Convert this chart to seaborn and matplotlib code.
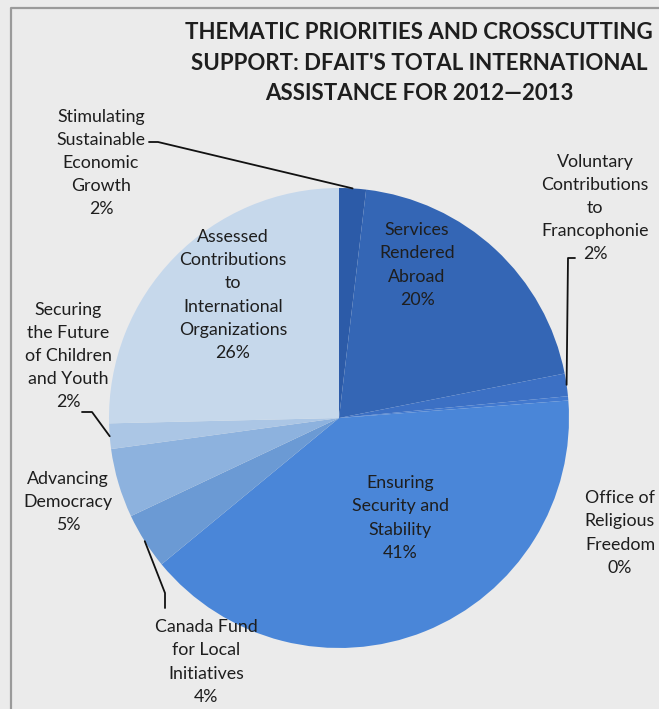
import numpy as np
import matplotlib
matplotlib.use("Agg")
import matplotlib.pyplot as plt
import seaborn as sns

# ---- data ----
categories = [
    "Stimulating\nSustainable\nEconomic\nGrowth",
    "Services\nRendered\nAbroad",
    "Voluntary\nContributions\nto\nFrancophonie",
    "Office of\nReligious\nFreedom",
    "Ensuring\nSecurity and\nStability",
    "Canada Fund\nfor Local\nInitiatives",
    "Advancing\nDemocracy",
    "Securing\nthe Future\nof Children\nand Youth",
    "Assessed\nContributions\nto\nInternational\nOrganizations",
]
values = [1.9, 20.2, 1.6, 0.3, 40.6, 4.0, 4.9, 1.8, 25.6]
title = "THEMATIC PRIORITIES AND CROSSCUTTING\nSUPPORT: DFAIT'S TOTAL INTERNATIONAL\nASSISTANCE FOR 2012\u20142013"

# ---- style ----
sns.set_theme(style="white")
plt.rcParams["font.family"] = ["Lato", "DejaVu Sans"]
bg = "#ebebeb"
colors = ["#2c5ba8", "#3466b5", "#3c70c4", "#4279cf", "#4a86d8",
          "#6b9ad4", "#8db2de", "#abc6e5", "#c6d8eb"]
txt = "#1e1e1e"

W, H = 659, 709
fig = plt.figure(figsize=(W / 100, H / 100), dpi=100, facecolor=bg)
ax = fig.add_axes([0, 0, 1, 1])
ax.set_facecolor(bg)

cx, cy, R = 339, H - 418, 230
wedges, _ = ax.pie(values, colors=colors, startangle=90, counterclock=False,
                   center=(cx, cy), radius=R,
                   wedgeprops=dict(linewidth=0))
ax.set_xlim(0, W)
ax.set_ylim(0, H)
ax.set_aspect("equal")
ax.axis("off")

# frame of the scanned box
ax.plot([11, 11, W], [0, H - 8, H - 8], color="#9a9a9a", lw=1.6)

def Y(py):
    return H - py

def mid_point(w):
    a = np.deg2rad((w.theta1 + w.theta2) / 2)
    return cx + R * np.cos(a), cy + R * np.sin(a)

fs = 12.8
ls = 1.55
labels = [f"{c}\n{v:.0f}%" for c, v in zip(categories, values)]
label_pos = [(101, 163), (417, 265), (595, 208), (620, 533), (400, 518),
             (206, 662), (68, 502), (68, 356), (233, 295)]
for lab, (px, py) in zip(labels, label_pos):
    ax.text(px, Y(py), lab, ha="center", va="center", fontsize=fs,
            color=txt, linespacing=ls)

# leader lines
lc = "#111111"
mx, my = mid_point(wedges[0])
ax.plot([149, 158, mx], [Y(142), Y(142), my], color=lc, lw=1.3)
mx, my = mid_point(wedges[2])
ax.plot([575, 568, mx], [Y(258), Y(258), my], color=lc, lw=1.3)
mx, my = mid_point(wedges[7])
ax.plot([82, 92, mx], [Y(412), Y(412), my], color=lc, lw=1.3)
mx, my = mid_point(wedges[5])
ax.plot([mx, 165, 165], [my, Y(593), Y(608)], color=lc, lw=1.3)

ax.text(419, Y(63), title, ha="center", va="center", fontsize=16,
        fontweight="bold", color=txt, linespacing=1.58)

fig.savefig("out.png", dpi=100, facecolor=bg)
